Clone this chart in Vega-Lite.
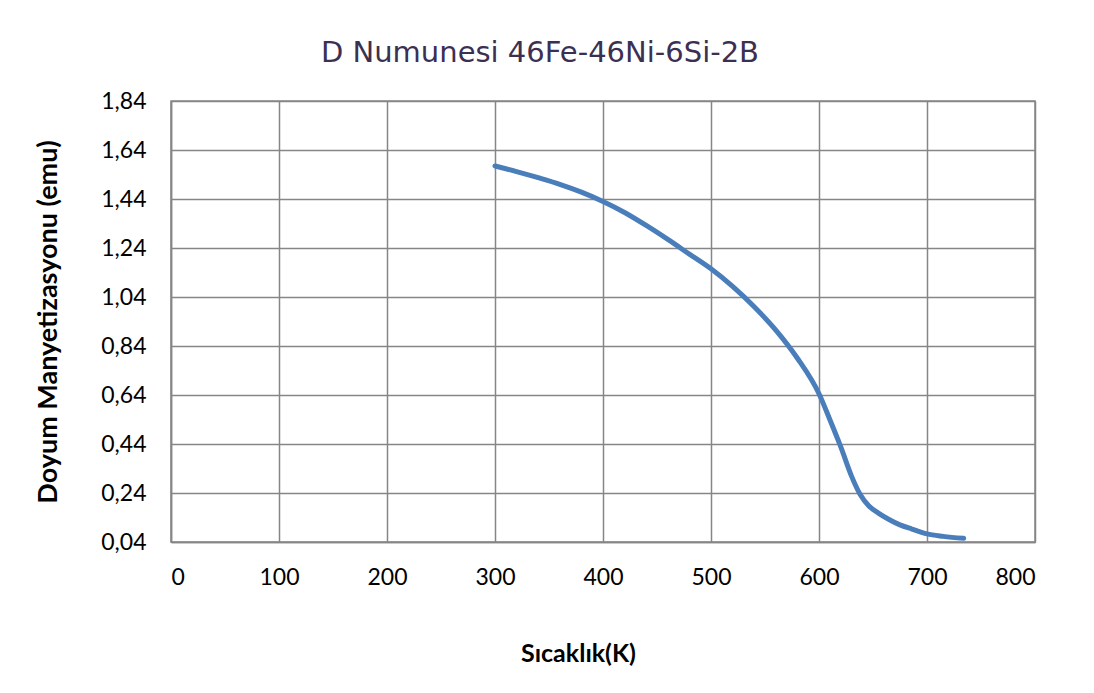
{
  "$schema": "https://vega.github.io/schema/vega-lite/v6.json",
  "width": 864,
  "height": 441,
  "autosize": {"type": "none"},
  "padding": {"left": 171, "top": 101, "right": 59, "bottom": 151},
  "background": "white",
  "title": {
    "text": "D Numunesi 46Fe-46Ni-6Si-2B",
    "font": "DejaVu Sans",
    "fontSize": 29,
    "fontWeight": "normal",
    "color": "#3C3052",
    "anchor": "middle",
    "dx": -63,
    "offset": 22
  },
  "data": {
    "values": [
      {"T": 300, "M": 1.575},
      {"T": 320, "M": 1.552},
      {"T": 340, "M": 1.527},
      {"T": 360, "M": 1.5},
      {"T": 380, "M": 1.468},
      {"T": 400, "M": 1.43},
      {"T": 420, "M": 1.385},
      {"T": 440, "M": 1.332},
      {"T": 460, "M": 1.275},
      {"T": 480, "M": 1.215},
      {"T": 500, "M": 1.155},
      {"T": 520, "M": 1.083},
      {"T": 540, "M": 1.0},
      {"T": 560, "M": 0.905},
      {"T": 580, "M": 0.79},
      {"T": 600, "M": 0.645},
      {"T": 610, "M": 0.54},
      {"T": 620, "M": 0.43},
      {"T": 630, "M": 0.31},
      {"T": 638, "M": 0.235},
      {"T": 646, "M": 0.188},
      {"T": 655, "M": 0.158},
      {"T": 664, "M": 0.134},
      {"T": 675, "M": 0.11},
      {"T": 686, "M": 0.093},
      {"T": 700, "M": 0.073},
      {"T": 715, "M": 0.063},
      {"T": 734, "M": 0.055}
    ]
  },
  "mark": {"type": "line", "color": "#4A7EBB", "strokeWidth": 5, "strokeCap": "round", "strokeJoin": "round", "interpolate": "monotone"},
  "encoding": {
    "x": {
      "field": "T",
      "type": "quantitative",
      "scale": {"domain": [0, 800], "nice": false, "zero": false},
      "axis": {
        "title": "Sıcaklık(K)",
        "values": [0, 100, 200, 300, 400, 500, 600, 700, 800],
        "labelPadding": 24,
        "titlePadding": 52,
        "titleX": 407
      }
    },
    "y": {
      "field": "M",
      "type": "quantitative",
      "scale": {"domain": [0.04, 1.84], "nice": false, "zero": false},
      "axis": {
        "title": "Doyum Manyetizasyonu (emu)",
        "values": [0.04, 0.24, 0.44, 0.64, 0.84, 1.04, 1.24, 1.44, 1.64, 1.84],
        "labelExpr": "replace(format(datum.value, '.2f'), '.', ',')",
        "labelPadding": 25,
        "titlePadding": 38,
        "titleFontSize": 27
      }
    }
  },
  "config": {
    "view": {"stroke": "#868686", "strokeWidth": 1.5},
    "axis": {
      "grid": true,
      "gridColor": "#868686",
      "gridWidth": 1.5,
      "gridOpacity": 1,
      "domain": true,
      "domainColor": "#868686",
      "domainWidth": 1.5,
      "ticks": false,
      "labelFont": "Lato",
      "labelFontSize": 23,
      "labelColor": "#000000",
      "titleFont": "Lato",
      "titleFontSize": 25,
      "titleFontWeight": "bold",
      "titleColor": "#000000"
    }
  }
}
